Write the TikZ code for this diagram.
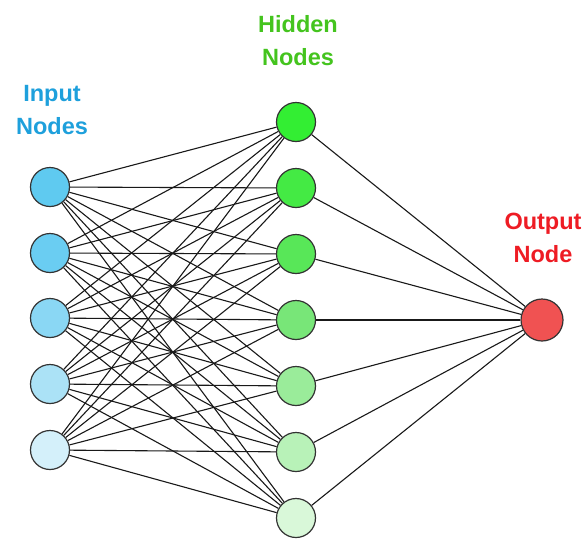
\documentclass[tikz,border=0pt]{standalone}
\usepackage{fontspec}
\setmainfont{Liberation Sans}
\definecolor{inblue}{HTML}{1EA0DC}
\definecolor{hidgreen}{HTML}{44C41E}
\definecolor{outred}{HTML}{EE1C24}
\definecolor{iA}{HTML}{5FCAF0}
\definecolor{iB}{HTML}{6ACDF2}
\definecolor{iC}{HTML}{8AD7F4}
\definecolor{iD}{HTML}{ABE2F6}
\definecolor{iE}{HTML}{D4F0FA}
\definecolor{hA}{HTML}{33EE33}
\definecolor{hB}{HTML}{44EA44}
\definecolor{hC}{HTML}{58E758}
\definecolor{hD}{HTML}{78E678}
\definecolor{hE}{HTML}{9AEC9A}
\definecolor{hF}{HTML}{B8F2B8}
\definecolor{hG}{HTML}{D9F8D9}
\definecolor{oA}{HTML}{F05252}
\tikzset{
  neuron/.style={circle, draw=black!80, line width=1.2pt, minimum size=39pt, inner sep=0pt},
  outneuron/.style={circle, draw=black!80, line width=1.2pt, minimum size=42pt, inner sep=0pt},
  link/.style={draw=black!90, line width=1.1pt},
  lbl/.style={font=\bfseries\fontsize{23.5}{33}\selectfont, align=center, inner sep=0pt}
}
\begin{document}
\begin{tikzpicture}[x=1pt,y=-1pt]
\useasboundingbox (0,0) rectangle (587,539);
\fill[white] (0,0) rectangle (587,539);
% input nodes
\node[neuron, fill=iA] (i1) at (50,187) {};
\node[neuron, fill=iB] (i2) at (50,253) {};
\node[neuron, fill=iC] (i3) at (50,318) {};
\node[neuron, fill=iD] (i4) at (50,384) {};
\node[neuron, fill=iE] (i5) at (50,450) {};
% hidden nodes
\node[neuron, fill=hA] (h1) at (296,122) {};
\node[neuron, fill=hB] (h2) at (296,188) {};
\node[neuron, fill=hC] (h3) at (296,254) {};
\node[neuron, fill=hD] (h4) at (296,320) {};
\node[neuron, fill=hE] (h5) at (296,386) {};
\node[neuron, fill=hF] (h6) at (296,452) {};
\node[neuron, fill=hG] (h7) at (296,518) {};
% output node
\node[outneuron, fill=oA] (o1) at (542,320) {};
% labels
\node[lbl, text=inblue] (linput) at (52,110) {Input\\Nodes};
\node[lbl, text=hidgreen] (lhidden) at (298,41) {Hidden\\Nodes};
\node[lbl, text=outred] (loutput) at (543,238) {Output\\Node};
% connectors
\foreach \i in {1,...,5}{
  \foreach \h in {1,...,7}{
    \draw[link] (i\i) -- (h\h);
  }
}
\foreach \h in {1,...,7}{
  \draw[link] (h\h) -- (o1);
}
\end{tikzpicture}
\end{document}
